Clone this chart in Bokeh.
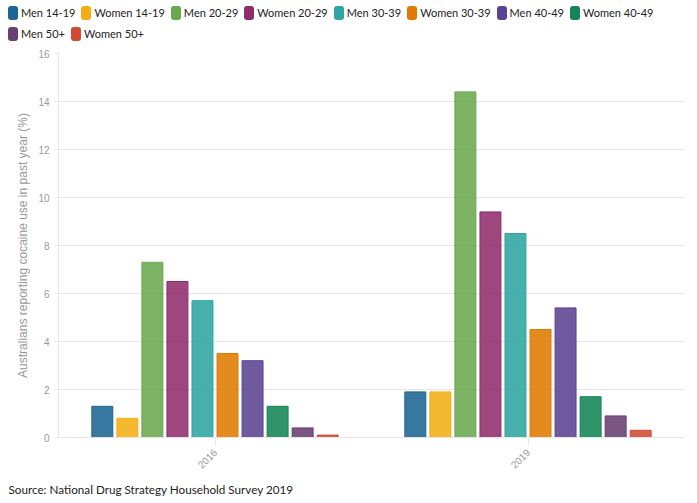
from bokeh.plotting import figure
from bokeh.models import ColumnDataSource, Range1d, FactorRange, Title, Div
from bokeh.layouts import column
from bokeh.transform import dodge
from bokeh.embed import file_html
from bokeh.resources import INLINE

years = ["2016", "2019"]
groups = ["Men 14-19", "Women 14-19", "Men 20-29", "Women 20-29", "Men 30-39",
          "Women 30-39", "Men 40-49", "Women 40-49", "Men 50+", "Women 50+"]
men_14_19 = [1.3, 1.9]
women_14_19 = [0.8, 1.9]
men_20_29 = [7.3, 14.4]
women_20_29 = [6.5, 9.4]
men_30_39 = [5.7, 8.5]
women_30_39 = [3.5, 4.5]
men_40_49 = [3.2, 5.4]
women_40_49 = [1.3, 1.7]
men_50 = [0.4, 0.9]
women_50 = [0.1, 0.3]
series = [men_14_19, women_14_19, men_20_29, women_20_29, men_30_39,
          women_30_39, men_40_49, women_40_49, men_50, women_50]
colors = ["#1c6493", "#f2ae14", "#6aa84f", "#8f2d6c", "#2ea5a2",
          "#e07b00", "#5b4393", "#138556", "#6a3f72", "#d24a34"]

data = {"year": years}
for i, s in enumerate(series):
    data["s%d" % i] = s
src = ColumnDataSource(data)

# ---- legend (HTML) ----
def item_html(label, color):
    box = ('<span style="display:inline-block;width:10px;height:14px;background:%s;'
           'border-radius:3px;vertical-align:middle;margin-right:3px;"></span>' % color)
    txt = ('<span style="vertical-align:middle;margin-right:6px;white-space:nowrap;">%s</span>'
           % label)
    return '<span style="white-space:nowrap;">' + box + txt + '</span>'

row1 = "".join(item_html(g, c) for g, c in zip(groups[:8], colors[:8]))
row2 = "".join(item_html(g, c) for g, c in zip(groups[8:], colors[8:]))
legend_html = ('<div style="font-family:Lato,sans-serif;font-size:11px;color:#222222;'
               'line-height:20px;padding:2px 0 0 8px;white-space:nowrap;">'
               '<div>' + row1 + '</div><div>' + row2 + '</div></div>')
leg = Div(text=legend_html, width=697, height=45, margin=(0, 0, 0, 0))

# ---- main chart ----
p = figure(width=697, height=458, x_range=FactorRange(*years), y_range=Range1d(0, 16),
           output_backend="svg", toolbar_location=None,
           min_border_left=58, min_border_right=13, min_border_top=8, min_border_bottom=66)
p.outline_line_color = None

for i, g in enumerate(groups):
    p.vbar(x=dodge("year", (i - 4.5) * 0.08, range=p.x_range), top="s%d" % i,
           width=0.067, source=src, fill_color=colors[i], fill_alpha=0.88,
           line_color=colors[i], line_width=1)

p.ygrid.grid_line_color = "#e6e6e6"
p.xgrid.grid_line_color = None
p.yaxis.axis_label = "Australians reporting cocaine use in past year (%)"
p.yaxis.axis_label_text_font = "Liberation Sans"
p.yaxis.axis_label_text_font_style = "normal"
p.yaxis.axis_label_text_font_size = "12px"
p.yaxis.axis_label_text_color = "#999999"
p.yaxis.major_label_text_font = "Liberation Sans"
p.yaxis.major_label_text_font_size = "10px"
p.yaxis.major_label_text_color = "#999999"
p.yaxis.axis_line_color = "#e6e6e6"
p.yaxis.major_tick_line_color = "#e6e6e6"
p.yaxis.major_tick_in = 0
p.yaxis.major_tick_out = 4
p.yaxis.minor_tick_line_color = None
p.yaxis.ticker = [0, 2, 4, 6, 8, 10, 12, 14, 16]

p.xaxis.axis_line_color = "#e6e6e6"
p.xaxis.major_tick_line_color = "#e6e6e6"
p.xaxis.major_tick_in = 0
p.xaxis.major_tick_out = 8
p.xaxis.major_label_orientation = 0.785
p.xaxis.major_label_text_font = "Liberation Sans"
p.xaxis.major_label_text_font_size = "10px"
p.xaxis.major_label_text_color = "#999999"

src_title = Title(text="Source: National Drug Strategy Household Survey 2019",
                  align="left", text_font="Lato", text_font_size="11.7px",
                  text_font_style="normal", text_color="#222222", offset=-50,
                  standoff=11)
p.add_layout(src_title, "below")

layout = column(leg, p, spacing=0)
open("out.html", "w").write(file_html(layout, INLINE))
